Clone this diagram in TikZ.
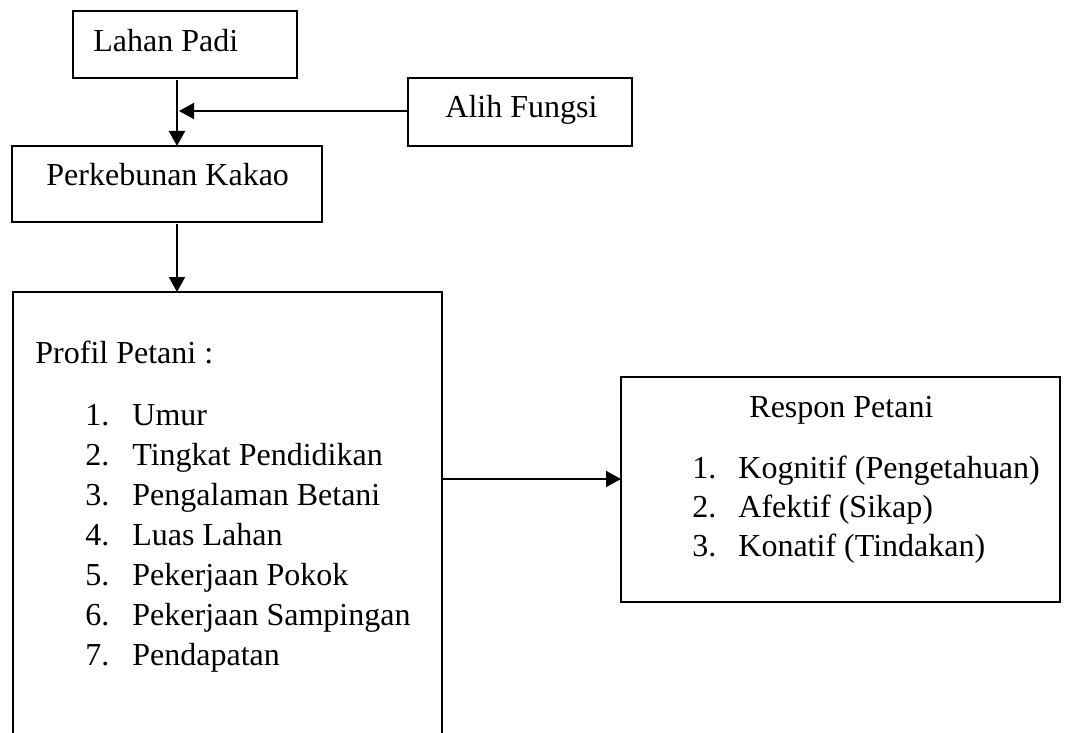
\documentclass[tikz,border=0pt]{standalone}
\usepackage{fontspec}
\setmainfont{Liberation Serif}
\usetikzlibrary{arrows.meta}
\tikzset{
  box/.style={draw, line width=0.65pt, inner sep=0pt, outer sep=0pt},
  thickbox/.style={draw, line width=1.3pt, inner sep=0pt, outer sep=0pt},
  lbl/.style={anchor=base west, inner sep=0pt, font=\fontsize{16}{19}\selectfont},
  arr/.style={line width=1pt, -{Triangle[length=7.5pt,width=8pt]}}
}
\begin{document}
\begin{tikzpicture}[x=0.5pt,y=-0.5pt]
\useasboundingbox (0,0) rectangle (1066,733);
\begin{scope}
\clip (0,0) rectangle (1066,733);
% boxes
\node[box, minimum width=112pt, minimum height=33.5pt] (lahan) at (185,44.5) {};
\node[box, minimum width=112pt, minimum height=34pt] (alih) at (520,112) {};
\node[box, minimum width=155pt, minimum height=38pt] (perk) at (167,184) {};
\node[thickbox, minimum width=214.5pt, minimum height=254pt] (prof) at (227.5,546) {};
\node[box, minimum width=219.5pt, minimum height=112.5pt] (resp) at (840.5,489.5) {};
% texts
\node[lbl] (t1) at (93,52) {Lahan Padi};
\node[lbl] (t2) at (445,118) {Alih Fungsi};
\node[lbl] (t3) at (46,185) {Perkebunan Kakao};
\node[lbl] (t4) at (35,363) {Profil Petani :};
\node[lbl] (n1) at (85,425) {1.};  \node[lbl] (i1) at (132,425) {Umur};
\node[lbl] (n2) at (85,465) {2.};  \node[lbl] (i2) at (132,465) {Tingkat Pendidikan};
\node[lbl] (n3) at (85,505) {3.};  \node[lbl] (i3) at (132,505) {Pengalaman Betani};
\node[lbl] (n4) at (85,545) {4.};  \node[lbl] (i4) at (132,545) {Luas Lahan};
\node[lbl] (n5) at (85,585) {5.};  \node[lbl] (i5) at (132,585) {Pekerjaan Pokok};
\node[lbl] (n6) at (85,625) {6.};  \node[lbl] (i6) at (132,625) {Pekerjaan Sampingan};
\node[lbl] (n7) at (85,665) {7.};  \node[lbl] (i7) at (132,665) {Pendapatan};
\node[lbl] (t5) at (749,417) {Respon Petani};
\node[lbl] (r1n) at (692,478) {1.}; \node[lbl] (r1) at (738,478) {Kognitif (Pengetahuan)};
\node[lbl] (r2n) at (692,517) {2.}; \node[lbl] (r2) at (738,517) {Afektif (Sikap)};
\node[lbl] (r3n) at (692,556) {3.}; \node[lbl] (r3) at (738,556) {Konatif (Tindakan)};
% connectors
\coordinate (cx) at (177,0);
\coordinate (cy) at (0,479);
\coordinate (join) at (179,111);
\draw[arr] ([yshift=-1pt]lahan.south -| cx) -- (perk.north -| cx);
\draw[arr] (alih.west |- join) -- (join);
\draw[arr] ([yshift=-1pt]perk.south -| cx) -- (prof.north -| cx);
\draw[arr] (prof.east |- cy) -- (resp.west |- cy);
\end{scope}
\end{tikzpicture}
\end{document}
